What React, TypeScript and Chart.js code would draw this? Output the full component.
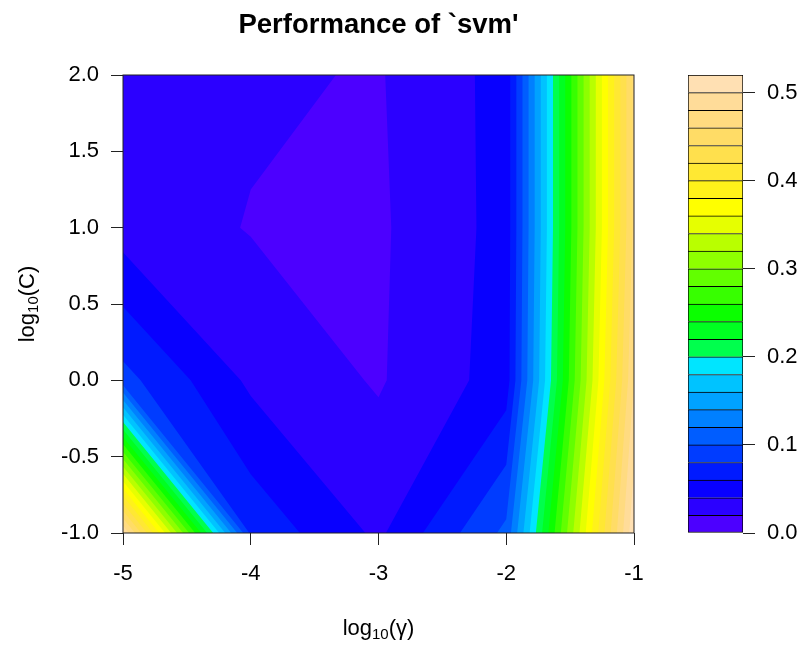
import React, { useEffect, useRef } from "react";
import { Chart, registerables } from "chart.js";
Chart.register(...registerables);

// grid of the tuning run: log10(gamma) x log10(cost)
const GAMMA_LOG = [-5, -4, -3, -2, -1];
const COST_LOG = [-1, 0, 1, 2];
// error (performance) for each gamma, one array per cost value
const ERROR_COST_M1 = [0.5, 0.075, 0.036, 0.105, 0.515];
const ERROR_COST_0 = [0.087, 0.036, 0.018, 0.049, 0.48];
const ERROR_COST_1 = [0.031, 0.019, 0.017, 0.047, 0.465];
const ERROR_COST_2 = [0.028, 0.023, 0.0185, 0.047, 0.465];

const LEVELS = [0, 0.02, 0.04, 0.06, 0.08, 0.1, 0.12, 0.14, 0.16, 0.18, 0.2, 0.22, 0.24, 0.26, 0.28, 0.3, 0.32, 0.34, 0.36, 0.38, 0.4, 0.42, 0.44, 0.46, 0.48, 0.5, 0.52];
const X_TICKS = [-5, -4, -3, -2, -1];
const Y_TICKS = [-1, -0.5, 0, 0.5, 1, 1.5, 2];
const BAR_TICKS = [0, 0.1, 0.2, 0.3, 0.4, 0.5];

const COLORS = [
  "#4C00FF", "#2B00FF", "#0800FF", "#001AFF", "#003CFF", "#005DFF", "#0080FF", "#00A2FF", "#00C3FF", "#00E5FF",
  "#00FF4D", "#00FF21", "#0BFF00", "#37FF00", "#62FF00", "#8EFF00", "#B9FF00", "#E6FF00",
  "#FFFF00", "#FFF21A", "#FFE833", "#FFE04D", "#FFDC66", "#FFDB80", "#FFDC99", "#FFE0B3",
];

const FONT = '"Liberation Sans", Arial, sans-serif';
const TICK_SIZE = 22;

const ROWS = [ERROR_COST_M1, ERROR_COST_0, ERROR_COST_1, ERROR_COST_2];

const contourPlugin = {
  id: "contour",
  beforeDatasetsDraw(chart: any) {
    const { ctx, chartArea } = chart;
    const xs = chart.scales.x;
    const ys = chart.scales.y;
    const { left, top, right, bottom } = chartArea;
    ctx.save();
    ctx.beginPath();
    ctx.rect(left, top, right - left, bottom - top);
    ctx.clip();
    ctx.fillStyle = COLORS[0];
    ctx.fillRect(left, top, right - left, bottom - top);
    for (let k = 1; k < LEVELS.length - 1; k++) {
      const t = LEVELS[k];
      ctx.beginPath();
      for (let j = 0; j < COST_LOG.length - 1; j++) {
        for (let i = 0; i < GAMMA_LOG.length - 1; i++) {
          const corners = [
            [GAMMA_LOG[i], COST_LOG[j], ROWS[j][i]],
            [GAMMA_LOG[i + 1], COST_LOG[j], ROWS[j][i + 1]],
            [GAMMA_LOG[i + 1], COST_LOG[j + 1], ROWS[j + 1][i + 1]],
            [GAMMA_LOG[i], COST_LOG[j + 1], ROWS[j + 1][i]],
          ];
          const pts: number[][] = [];
          for (let e = 0; e < 4; e++) {
            const a = corners[e];
            const b = corners[(e + 1) % 4];
            const ina = a[2] >= t;
            const inb = b[2] >= t;
            if (ina) pts.push([a[0], a[1]]);
            if (ina !== inb) {
              const f = (t - a[2]) / (b[2] - a[2]);
              pts.push([a[0] + f * (b[0] - a[0]), a[1] + f * (b[1] - a[1])]);
            }
          }
          if (pts.length >= 3) {
            pts.forEach((p, idx) => {
              const px = xs.getPixelForValue(p[0]);
              const py = ys.getPixelForValue(p[1]);
              if (idx === 0) ctx.moveTo(px, py);
              else ctx.lineTo(px, py);
            });
            ctx.closePath();
          }
        }
      }
      ctx.fillStyle = COLORS[k];
      ctx.fill();
    }
    ctx.restore();
  },
};

function drawLogLabel(ctx: CanvasRenderingContext2D, cx: number, cy: number, sym: string, rotate: boolean) {
  ctx.save();
  ctx.translate(cx, cy);
  if (rotate) ctx.rotate(-Math.PI / 2);
  const big = `${TICK_SIZE}px ${FONT}`;
  const small = `${Math.round(TICK_SIZE * 0.7)}px ${FONT}`;
  ctx.fillStyle = "#000";
  ctx.textAlign = "left";
  ctx.textBaseline = "alphabetic";
  ctx.font = big;
  const w1 = ctx.measureText("log").width;
  const w3 = ctx.measureText("(" + sym + ")").width;
  ctx.font = small;
  const w2 = ctx.measureText("10").width;
  let x = -(w1 + w2 + w3) / 2;
  const base = 8;
  ctx.font = big;
  ctx.fillText("log", x, base);
  x += w1;
  ctx.font = small;
  ctx.fillText("10", x, base + 4);
  x += w2;
  ctx.font = big;
  ctx.fillText("(" + sym + ")", x, base);
  ctx.restore();
}

const framePlugin = {
  id: "frame",
  afterDraw(chart: any) {
    const { ctx, chartArea } = chart;
    const { left, top, right, bottom } = chartArea;
    ctx.save();
    ctx.strokeStyle = "#222";
    ctx.lineWidth = 1;
    ctx.strokeRect(left, top, right - left, bottom - top);
    ctx.restore();
    drawLogLabel(ctx, (left + right) / 2, 627, "\u03B3", false);
    drawLogLabel(ctx, 26, (top + bottom) / 2, "C", true);
  },
};

export default function App() {
  const mainRef = useRef<HTMLCanvasElement>(null);
  const barRef = useRef<HTMLCanvasElement>(null);

  useEffect(() => {
    const tickFont = { family: FONT, size: TICK_SIZE };
    const main = new Chart(mainRef.current!, {
      type: "scatter",
      data: { datasets: [] },
      options: {
        responsive: false,
        animation: false,
        events: [],
        layout: { padding: 0 },
        plugins: {
          legend: { display: false },
          tooltip: { enabled: false },
          title: {
            display: true,
            text: "Performance of `svm'",
            color: "#000",
            font: { family: FONT, size: 27.5, weight: "bold", lineHeight: 1 },
            padding: { top: 12, bottom: 35.5 },
          },
        },
        scales: {
          x: {
            type: "linear",
            min: -5,
            max: -1,
            afterBuildTicks: (s: any) => {
              s.ticks = X_TICKS.map((v) => ({ value: v }));
            },
            afterFit: (s: any) => {
              s.height = 113;
            },
            ticks: {
              color: "#000",
              font: tickFont,
              padding: 16,
              maxRotation: 0,
              autoSkip: false,
              callback: (v: any) => String(v),
            },
            grid: { display: true, drawOnChartArea: false, drawTicks: true, tickLength: 12, tickColor: "#222" },
            border: { display: false },
          },
          y: {
            type: "linear",
            min: -1,
            max: 2,
            afterBuildTicks: (s: any) => {
              s.ticks = Y_TICKS.map((v) => ({ value: v }));
            },
            afterFit: (s: any) => {
              s.width = 123;
            },
            ticks: {
              color: "#000",
              font: tickFont,
              padding: 12,
              autoSkip: false,
              callback: (v: any) => Number(v).toFixed(1),
            },
            grid: { display: true, drawOnChartArea: false, drawTicks: true, tickLength: 12, tickColor: "#222" },
            border: { display: false },
          },
          spacer: {
            type: "linear",
            position: "right",
            display: true,
            min: 0,
            max: 1,
            afterFit: (s: any) => {
              s.width = 123;
            },
            ticks: { display: false },
            grid: { display: false, drawTicks: false },
            border: { display: false },
          },
        },
      },
      plugins: [contourPlugin, framePlugin],
    } as any);

    const barDatasets = COLORS.map((c, k) => ({
      label: String(LEVELS[k]),
      data: [LEVELS[k + 1] - LEVELS[k]],
      backgroundColor: c,
      borderColor: "#000",
      borderWidth: { top: 1, left: 1, right: 1, bottom: k === 0 ? 1 : 0 },
      borderSkipped: false,
      barPercentage: 1,
      categoryPercentage: 1,
    }));
    const bar = new Chart(barRef.current!, {
      type: "bar",
      data: { labels: ["z"], datasets: barDatasets },
      options: {
        responsive: false,
        animation: false,
        events: [],
        layout: { padding: { left: 88, right: 0, top: 75, bottom: 113 } },
        plugins: { legend: { display: false }, tooltip: { enabled: false }, title: { display: false } },
        scales: {
          x: { display: false, stacked: true },
          y: {
            stacked: true,
            position: "right",
            min: 0,
            max: 0.52,
            afterBuildTicks: (s: any) => {
              s.ticks = BAR_TICKS.map((v) => ({ value: v }));
            },
            afterFit: (s: any) => {
              s.width = 65;
            },
            ticks: {
              color: "#000",
              font: tickFont,
              padding: 12,
              autoSkip: false,
              callback: (v: any) => Number(v).toFixed(1),
            },
            grid: { display: true, drawOnChartArea: false, drawTicks: true, tickLength: 12, tickColor: "#222" },
            border: { display: false },
          },
        },
      },
    } as any);

    return () => {
      main.destroy();
      bar.destroy();
    };
  }, []);

  return (
    <div style={{ position: "fixed", left: 0, top: 0, width: 808, height: 646, background: "#fff" }}>
      <canvas ref={mainRef} width={757} height={646} style={{ position: "absolute", left: 0, top: 0 }} />
      <canvas ref={barRef} width={208} height={646} style={{ position: "absolute", left: 600, top: 0 }} />
    </div>
  );
}
